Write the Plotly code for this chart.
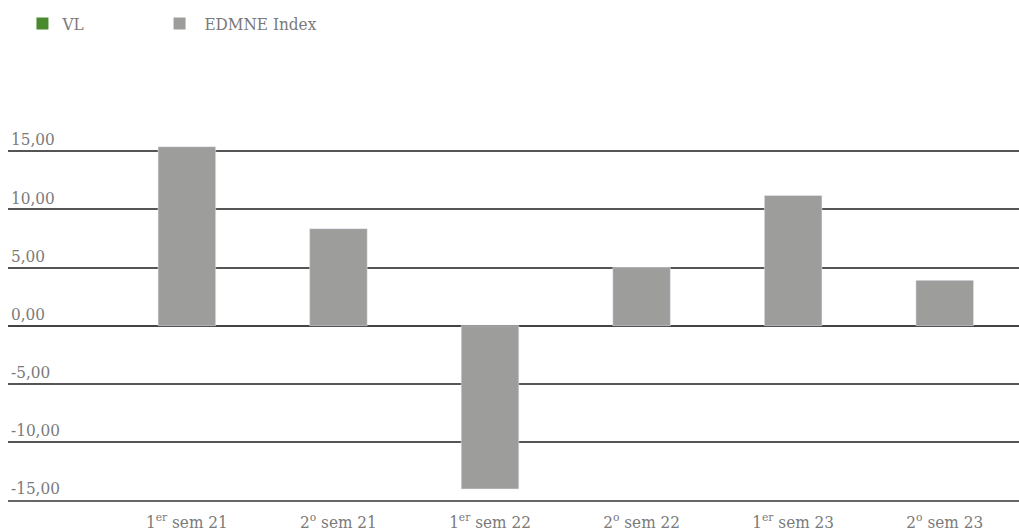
import plotly.graph_objects as go

categories = ["1<sup>er</sup> sem 21", "2<sup>o</sup> sem 21", "1<sup>er</sup> sem 22",
              "2<sup>o</sup> sem 22", "1<sup>er</sup> sem 23", "2<sup>o</sup> sem 23"]
vl_values = [None, None, None, None, None, None]
edmne_values = [15.4, 8.35, -14.05, 5.0, 11.2, 3.9]
y_ticks = [-15, -10, -5, 0, 5, 10, 15]
y_tick_labels = ["-15,00", "-10,00", "-5,00", "0,00", "5,00", "10,00", "15,00"]

FONT = "DejaVu Serif Condensed, DejaVu Serif"
TXT = "#7a7a7a"
GREEN = "#4a8a2e"
GRAY = "#9d9d9c"

xs = list(range(len(categories)))
fig = go.Figure()
fig.add_trace(go.Bar(x=xs, y=vl_values, name="VL", marker_color=GREEN,
                     width=0.38, showlegend=False))
fig.add_trace(go.Bar(x=xs, y=edmne_values, name="EDMNE Index", marker_color=GRAY,
                     width=0.38, showlegend=False))
# legend entries (square swatches)
fig.add_trace(go.Scatter(x=[None], y=[None], mode="markers", name="VL",
                         marker=dict(symbol="square", size=15, color=GREEN),
                         legend="legend"))
fig.add_trace(go.Scatter(x=[None], y=[None], mode="markers", name="\u00a0EDMNE Index",
                         marker=dict(symbol="square", size=15, color=GRAY),
                         legend="legend2"))

leg_common = dict(orientation="h", y=1.107, yanchor="middle", xanchor="left",
                  itemsizing="constant", itemclick=False, itemdoubleclick=False,
                  font=dict(family=FONT, size=17, color=TXT), bgcolor="rgba(0,0,0,0)")

fig.update_layout(
    width=1019, height=532,
    margin=dict(l=8, r=0, t=70, b=32, autoexpand=False),
    plot_bgcolor="white", paper_bgcolor="white",
    barmode="overlay",
    font=dict(family=FONT, size=17, color=TXT),
    showlegend=True,
    legend=dict(x=0.0143, **leg_common),
    legend2=dict(x=0.1499, **leg_common),
    xaxis=dict(range=[-1.18, 5.49], tickmode="array", automargin=False,
               tickvals=xs, ticktext=categories,
               showgrid=False, zeroline=False, showline=True, linecolor="#666666",
               linewidth=1.5, ticks="", ticklabelstandoff=6,
               tickfont=dict(family=FONT, size=17, color=TXT)),
    yaxis=dict(range=[-15, 22], tickmode="array", tickvals=y_ticks, ticktext=y_tick_labels,
               automargin=False,
               showgrid=True, gridcolor="#555555", gridwidth=1.5,
               zeroline=True, zerolinecolor="#444444", zerolinewidth=1.5,
               ticklabelposition="inside top", ticks="",
               tickfont=dict(family=FONT, size=17, color=TXT)),
)

fig.write_html("out.html", config={"displayModeBar": False},
               post_script="document.body.style.margin='0';")
